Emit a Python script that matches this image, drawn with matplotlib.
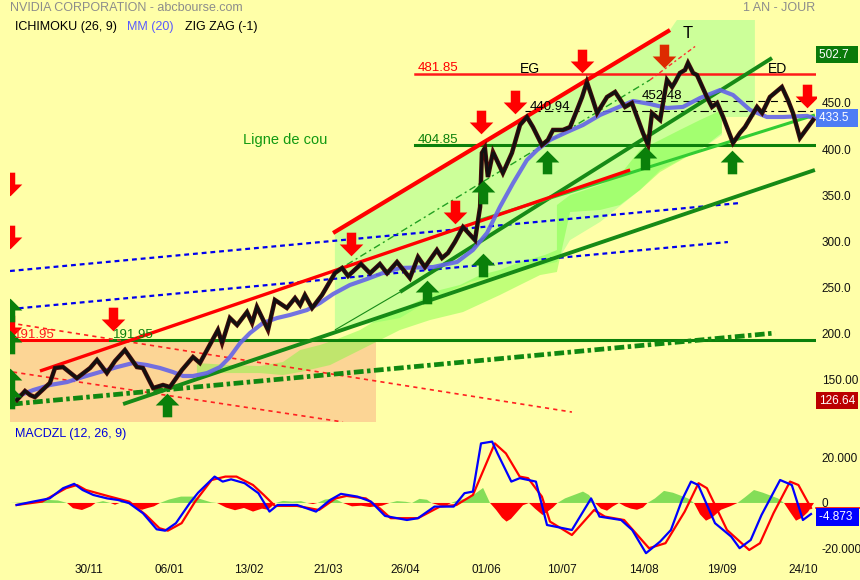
import numpy as np
import matplotlib
matplotlib.use("Agg")
import matplotlib.pyplot as plt
from matplotlib.path import Path

plt.rcParams['font.family'] = ['Liberation Sans', 'DejaVu Sans']
plt.rcParams['lines.scale_dashes'] = False

#########  data (x = bar index, y = price)

date_pos = [26.3, 53, 79.7, 106, 131.7, 158.7, 184, 211.3, 237.3, 264.3]
date_lbl = ["30/11", "06/01", "13/02", "21/03", "26/04", "01/06", "10/07", "14/08", "19/09", "24/10"]

price_ticks = [150, 200, 250, 300, 350, 400, 450]
price_tick_lbl = ["150.00", "200.0", "250.0", "300.0", "350.0", "400.0", "450.0"]

# zig zag line
zz_x = [2.3, 5, 6.7, 8.3, 13.3, 15, 17.7, 22.3, 26.7, 29, 32.3, 35, 38.3, 42.3, 44.3, 47.7, 51, 53.3,
        57.3, 61, 63.3, 69.3, 70.7, 73.3, 75.7, 79, 80.7, 82.3, 86, 88.3, 92.3, 95, 96.7, 98.3, 100.7,
        104, 108.3, 110.7, 112.7, 117, 120, 123.3, 125.7, 129, 133.3, 136, 138.3, 142.3, 144, 146,
        148.3, 151, 155, 156.7, 157.3, 158.3, 159.3, 161, 164.3, 167.3, 170, 172.3, 174.3, 177.3,
        179.3, 181, 184.3, 186.7, 189, 190.7, 192.3, 194.3, 195.7, 199, 201.7, 205, 207.3, 211,
        212.7, 214, 216.7, 219, 220.7, 221.7, 223.3, 225, 226, 227.7, 229, 232.3, 234, 235.7, 237.7,
        241, 243.3, 245, 249, 250.7, 253.3, 257.3, 259.3, 261, 263.3, 266, 267.7]
zz_p = [127.2, 137, 132.6, 130.4, 145.7, 162, 163, 151, 162, 170.7, 156.5, 169.6, 181.5, 163, 162,
        140.2, 143.5, 141.3, 159.8, 173.9, 167.4, 203.3, 189.1, 216.3, 208.7, 222.8, 210.9, 228.3,
        203.3, 235.9, 227.2, 238, 230.4, 241.3, 227.2, 241.3, 265.2, 270.7, 262, 275, 265, 275, 265,
        277.2, 259.8, 282.6, 271.7, 290.2, 281.5, 287, 298.9, 315.2, 301, 337, 395.7, 401.1, 369.6,
        396.7, 373.9, 395.7, 426.1, 434.8, 423.9, 404.3, 409.8, 420.7, 420.7, 423.9, 442.4, 456.5,
        472.8, 453.3, 439.1, 456.5, 462, 445.7, 450, 417.4, 404.3, 439.1, 431.5, 475, 467.4, 472.8,
        482.6, 485.9, 493.5, 482.6, 480.4, 456.5, 445.7, 450, 434.8, 406.5, 417.4, 423.9, 445.7,
        439.1, 456.5, 467.4, 453.3, 439.1, 412, 424, 431.5]

# moving average MM(20)
ma_x = [1, 7.7, 13.3, 19, 24.3, 30, 35.7, 41, 45.7, 50, 54.3, 57.7, 61, 65.7, 70, 73.3, 76.7, 80,
        84.3, 89, 93.3, 99, 103.3, 107.7, 113.3, 119, 124.3, 130, 141, 149, 154.3, 159, 163.3,
        167.7, 172.3, 175.7, 180, 185.7, 191, 196.7, 207.7, 213.3, 219, 224.3, 230, 236.7, 241,
        246.7, 252.3, 257.7, 265.7, 268]
ma_p = [129.3, 138, 143.5, 146.7, 152.2, 157.6, 163, 167.4, 165.2, 162, 157.6, 153.3, 153.3, 156.5,
        163, 173.9, 189.1, 200, 210.9, 216.3, 219.6, 225, 232.6, 242.4, 252.2, 258.7, 265.2, 270.7,
        271.7, 277.2, 290.2, 308.7, 337, 363, 388, 398.9, 409.8, 418.5, 426.1, 437, 452.2, 448.9,
        444.6, 445.7, 455.4, 464.1, 458.7, 442.4, 434.8, 434.8, 436, 433.5]

# ichimoku areas
pale_x = [108.3, 220, 222.3, 248.3, 248.3, 237.3, 237.3, 230, 216.7, 210, 196.7, 186.7, 182.3, 170,
          153.3, 140, 130, 108.3]
pale_p = [308.7, 529.3, 540.2, 540.2, 434.8, 434.8, 415.2, 398.9, 377.2, 355.4, 320.7, 301, 277.2,
          268.5, 255.4, 235.9, 216.3, 203.3]
kumo_x = [62.3, 73.3, 83.3, 91, 96.7, 103.3, 108.3, 116.7, 123.3, 130, 136.7, 143.3, 150, 156.7,
          163.3, 170, 178.3, 182.3, 182.3, 186.7, 196.7, 203.3, 210, 216.7, 223.3, 230, 237.3,
          237.3, 230, 226.7, 216.7, 210, 203.3, 196.7, 186.7, 182.3, 176.7, 170, 163.3, 151, 140,
          130, 116.7, 106.7, 96.7, 91, 83.3, 73.3, 62.3]
kumo_p = [167.4, 165.2, 164.1, 168.5, 181.5, 187, 192.4, 203.3, 216.3, 225, 235.9, 246.7, 252.2,
          263, 268.5, 277.2, 284.8, 290.2, 339.1, 350, 360.9, 371.7, 398.9, 409.8, 420.7, 431.5,
          442.4, 417.4, 398.9, 393.5, 375, 355.4, 339.1, 333.7, 331.5, 266.3, 263, 252.2, 241.3,
          222.8, 214.1, 203.3, 181.5, 165.2, 157.6, 154.3, 156.5, 156.5, 156.5]

# horizontal levels
lvl_neck = 191.95
lvl_low = 404.85
lvl_high = 481.85
lvl_mid1 = 440.94
lvl_mid2 = 452.48

# drawn trend lines: (x0, p0, x1, p1)
red_top = (107.7, 308.7, 220, 529.3)
red_low = (10, 158.7, 206.7, 377.2)
lgreen = (156.7, 322.8, 268.3, 437)
green_a = (37.7, 122.8, 268.3, 377.2)
green_b = (130, 244.6, 254, 498.9)
green_b_thin = (108.3, 203.3, 130, 244.6)
green_dd = (107.7, 265.2, 213.3, 475)
red_dd = (213.3, 475, 229, 513)
green_dd_thick = (1, 122.8, 255, 200)
blue_up = (0, 267.4, 243.3, 341.3)
blue_lo = (0, 226, 239.3, 298.9)
red_da = (0, 210.9, 187.3, 114.1)
red_db = (1, 157.6, 111, 103.3)

# signal arrows (centre points)
down_x = [34.3, 113.7, 148.3, 157, 168.3, 190.7, 265.7, 0, 0, 0]
down_p = [215.2, 296.5, 331.5, 429.3, 451.1, 495.7, 457.6, 362, 304.3, 206.5]
down2_x = [218]
down2_p = [501.1]
up_x = [52.3, 139, 157.7, 157.7, 179, 211.7, 240.7, 0, 0, 0, 0]
up_p = [121.7, 244.6, 353.3, 273.9, 385.9, 390.2, 385.9, 225, 190.2, 149, 130.4]

# MACD panel
macd_x = [2.2, 7.7, 13.2, 17.7, 21.4, 24.2, 27.8, 32.4, 36, 39.7, 44.3, 48.9, 51.7, 55.3, 59.9,
          62.7, 68.2, 70.9, 73.7, 78.2, 82.8, 86.5, 89.2, 95.7, 102, 106.7, 110.3, 115.8, 120.3,
          125, 132.3, 136, 141.5, 147.9, 151.5, 154.3, 157, 160.7, 162.5, 167.1, 169.9, 175.3,
          179, 181.7, 187.3, 193.7, 196.5, 203.7, 207.4, 212, 216.7, 220.3, 224, 227, 229.4, 235,
          240.4, 243.2, 246.9, 250.5, 256.7, 260.6, 264.3, 267]
macd_v = [-0.9, 0.6, 2, 6.5, 8.4, 5.7, 3.5, 2, 1.3, -0.1, -4.5, -11.6, -12.2, -8.9, -0.1, 4.5,
          11.6, 9.4, 10.4, 8.7, 4.3, -3.8, -0.9, -0.9, -3.8, 1.3, 4, 2.8, 0.6, -5.7, -7.5, -6.7,
          -1.6, -1.6, 4.3, 5, 26.2, 27, 21.8, 9.4, 10.9, 9.4, -9.7, -10.4, -11.9, 2, -6, -7.5,
          -11.9, -22.1, -17, -11.9, 1.3, 9.4, 7.9, -8.9, -14.8, -19.9, -16.3, -5.3, 10.1, 7.9,
          -7.5, -4.873]
sig_x = [2.2, 10.7, 18.7, 22.3, 25.3, 33.3, 39.7, 45.3, 49.8, 52.6, 57.2, 61.7, 67.2, 71.8, 75.5,
         81, 84.6, 88.3, 95.7, 103, 108.5, 112.2, 118.6, 123.2, 126.9, 136, 143.3, 148.8, 154.3,
         161.6, 165.3, 169.9, 172.7, 177.3, 180, 187.3, 194.7, 198.3, 204.7, 213, 218.5, 224.9,
         229.5, 232.3, 239, 246.4, 250, 254.5, 260, 262.8, 267]
sig_v = [-0.9, 0.6, 6.5, 7.9, 5.7, 2.8, 0.6, -5.3, -11.1, -12.2, -8.9, 0.6, 10.1, 11.6, 11.6, 7.9,
         3.5, -1.3, -1.3, -3.1, 2, 3.1, 2, -2.3, -6.7, -6.7, -1.6, -0.9, 3.5, 26.2, 21.8, 11.6,
         10.9, 2.8, -8.2, -14.1, -3.1, -6, -7.5, -19.9, -17.7, -3.8, 8.7, 6.5, -11.9, -20.7,
         -17.7, -4.5, 9.4, 7.9, -2.2]
hist_x = [0, 5, 9, 13, 16, 19, 21, 24, 27, 28.5, 31, 33.5, 35, 36.5, 38, 40, 42, 44, 46, 48, 50,
          53, 57, 61, 64, 67, 69, 72, 75, 78, 81, 84, 86, 88.5, 91, 94, 97, 99, 101, 102.5, 105,
          108, 111, 114, 117, 120, 124, 126.5, 129, 132, 134, 136.5, 139, 140.5, 143, 145, 147,
          149, 152, 155, 157.7, 160, 162, 164, 165.5, 167, 169, 171, 173, 175, 177.5, 179, 181,
          182.5, 185, 188, 191, 193, 195, 197, 199, 201, 203, 205, 207, 209, 211, 212.5, 215,
          218, 221, 224, 226, 228, 230, 232, 234, 237, 240, 242.5, 245, 248, 251, 254, 256, 258,
          260, 262, 264, 266, 268]
hist_v = [0, 0.3, 1.0, 1.3, 1.1, 0, -2.3, -3.1, -1.5, 0, 0.8, 0, -0.8, 0, 0.9, 0, -2.0, -3.0,
          -2.2, -1.5, 0, 1.5, 2.8, 2.8, 1.5, 0.3, 0, -2.0, -3.2, -2.2, -3.8, -2.5, -3.0, 0, 0.9,
          0.6, 0.8, 0, -0.5, 0, 1.5, 2.0, 0, -1.5, -1.2, -1.8, -1.2, 0, 0.8, 0.5, 0, 1.8, 1.4, 0,
          -1.0, -1.5, 0, 1.0, 2.0, 4.0, 6.6, 0, -3, -6.5, -8.2, -7.0, -4.0, -1.0, 0, -2.5, -5.3,
          -4.0, -2.0, 0, 2.0, 3.5, 5.0, 3.5, 0, -2.5, -3.4, -1.5, 0, -1.5, -2.5, -3.0, -2.0, 0,
          2.0, 5.3, 4.5, 3.0, 2.0, 0, -5.0, -7.8, -6.5, -3.0, -1.5, 0, 2.5, 5.7, 4.5, 3.0, 2.0, 0,
          -4.0, -7.8, -6.5, -4.0, 0]

#########

BG = '#ffffa8'
fig = plt.figure(figsize=(8.6, 5.8), dpi=100, facecolor=BG)

W, H = 860.0, 580.0
XMAX = (816 - 10) / 3.0
ax = fig.add_axes([10 / W, 1 - 422 / H, 806 / W, 402 / H], facecolor=BG)
ax.set_xlim(0, XMAX)
ax.set_ylim(103.3, 540.2)

ax2 = fig.add_axes([10 / W, 1 - 560 / H, 806 / W, 130 / H], facecolor=BG)
ax2.set_xlim(0, XMAX)
ax2.set_ylim(-25.1, 32.1)

for a in (ax, ax2):
    for s in a.spines.values():
        s.set_visible(False)
    a.tick_params(length=0)
    a.yaxis.tick_right()


def seg(a, line, **kw):
    x0, p0, x1, p1 = line
    a.plot([x0, x1], [p0, p1], solid_capstyle='butt', **kw)


# background areas
ax.fill_between([0, 122], [103.3, 103.3], [lvl_neck - 2, lvl_neck - 2], color='#fcd595', lw=0, zorder=1)
ax.fill(pale_x, pale_p, color='#ccff99', lw=0, zorder=1)
ax.fill(kumo_x, kumo_p, color='#66ff33', alpha=0.4, lw=0, zorder=1.5)

# horizontal levels
ax.plot([1, 33.3], [lvl_neck, lvl_neck], color='#ff0000', lw=2.2, zorder=2)
ax.plot([33.3, XMAX], [lvl_neck, lvl_neck], color='#0b800b', lw=2.2, zorder=2)
ax.plot([135, XMAX], [lvl_low, lvl_low], color='#0b800b', lw=2.2, zorder=2)
ax.plot([135, XMAX], [lvl_high, lvl_high], color='#ff1a1a', lw=1.8, zorder=2)
ax.plot([171.7, 267.7], [lvl_mid1, lvl_mid1], color='black', lw=0.8, dashes=(6, 3, 2, 3), zorder=2)
ax.plot([207.7, 267.7], [lvl_mid2, lvl_mid2], color='black', lw=0.8, dashes=(5, 4), zorder=2)

# trend lines
seg(ax, red_da, color='#ff2020', lw=1.2, dashes=(3, 3), zorder=3)
seg(ax, red_db, color='#ff2020', lw=1.2, dashes=(3, 3), zorder=3)
seg(ax, blue_up, color='#0000ee', lw=1.6, dashes=(3.5, 2.8), zorder=3)
seg(ax, blue_lo, color='#0000ee', lw=1.6, dashes=(3.5, 2.8), zorder=3)
seg(ax, green_dd_thick, color='#118811', lw=3.4, dashes=(7, 2.5, 2.5, 2.5), zorder=3)
seg(ax, green_a, color='#168a16', lw=2.8, zorder=3)
seg(ax, green_b_thin, color='#168a16', lw=0.8, zorder=3)
seg(ax, green_b, color='#168a16', lw=2.8, zorder=3)
seg(ax, green_dd, color='#22a022', lw=1.0, dashes=(5, 2.5, 1.5, 2.5), zorder=3)
seg(ax, red_dd, color='#ff3030', lw=1.0, dashes=(3, 2, 1.5, 2), zorder=3)
seg(ax, red_top, color='#ff0000', lw=3.0, zorder=3)
seg(ax, lgreen, color='#33cc33', lw=2.2, zorder=3)
seg(ax, red_low, color='#ff0000', lw=2.4, zorder=3.1)

# MM(20) and zig zag
ax.plot(ma_x, ma_p, color='#6464e8', lw=3.0, alpha=0.9, zorder=4, solid_capstyle='round')
ax.plot(zz_x, zz_p, color='#4a0a0a', lw=3.2, zorder=5, solid_joinstyle='miter')
ax.plot(zz_x, zz_p, color='#111111', lw=2.0, zorder=5.1, solid_joinstyle='miter')

# arrows
dn = Path([(-0.2, 0.5), (0.2, 0.5), (0.2, 0.0), (0.5, 0.0), (0, -0.5), (-0.5, 0.0), (-0.2, 0.0),
           (-0.2, 0.5)], closed=True)
up = Path([(-0.2, -0.5), (0.2, -0.5), (0.2, 0.0), (0.5, 0.0), (0, 0.5), (-0.5, 0.0), (-0.2, 0.0),
           (-0.2, -0.5)], closed=True)
ax.plot(down_x, down_p, ls='none', marker=dn, ms=17, mfc='#ff0000', mec='none', zorder=6)
ax.plot(down2_x, down2_p, ls='none', marker=dn, ms=17, mfc='#dd2a00', mec='none', zorder=6)
ax.plot(up_x, up_p, ls='none', marker=up, ms=17, mfc='#0a800a', mec='none', zorder=6)

# chart texts
ax.text(77.7, 409.8, "Ligne de cou", color='#119911', fontsize=10.5, va='center', zorder=7)
ax.text(173.3, 487, "EG", color='black', fontsize=10, ha='center', va='center', zorder=7)
ax.text(226, 525, "T", color='black', fontsize=12, ha='center', va='center', zorder=7)
ax.text(255.7, 487, "ED", color='black', fontsize=10, ha='center', va='center', zorder=7)
ax.text(136, 487.5, "481.85", color='#ff0000', fontsize=9.5, va='center', zorder=7)
ax.text(136, 410, "404.85", color='#0b800b', fontsize=9.5, va='center', zorder=7)
ax.text(1.3, 197.5, "191.95", color='#ff1a1a', fontsize=9.5, va='center', zorder=7)
ax.text(34.3, 197.5, "191.95", color='#0b800b', fontsize=9.5, va='center', zorder=7)
ax.text(173.3, 446, "440.94", color='black', fontsize=9.5, va='center', zorder=7)
ax.text(210.7, 457.5, "452.48", color='black', fontsize=9.5, va='center', zorder=7)

# right scale
ax.set_yticks(price_ticks)
ax.set_yticklabels(price_tick_lbl)
ax.tick_params(axis='y', labelsize=8.5, pad=4, labelcolor='#111111')
ax.set_xticks([])
tr = ax.get_yaxis_transform()
box = dict(boxstyle='square,pad=0.25', ec='none')
ax.text(1.004, 502.7, "502.7  ", transform=tr, color='white', fontsize=8.5, va='center', ha='left',
        bbox=dict(box, fc='#0a7a0a'))
ax.text(1.004, 433.5, "433.5  ", transform=tr, color='white', fontsize=8.5, va='center', ha='left',
        bbox=dict(box, fc='#4d7cf5'))
ax.text(1.004, 126.64, "126.64", transform=tr, color='white', fontsize=8.5, va='center', ha='left',
        bbox=dict(box, fc='#bb0000'))

# MACD
hx = np.array(hist_x)
hv = np.array(hist_v)
ax2.fill_between(hx, 0, hv, where=hv >= 0, color='#84dd58', lw=0, interpolate=True)
ax2.fill_between(hx, 0, hv, where=hv <= 0, color='#ff0000', lw=0, interpolate=True)
ax2.plot(sig_x, sig_v, color='#ff0000', lw=1.6)
ax2.plot(macd_x, macd_v, color='#0000ff', lw=1.6)
ax2.set_yticks([20, 0, -20])
ax2.set_yticklabels(["20.000", "0", "-20.000"])
ax2.tick_params(axis='y', labelsize=8.5, pad=4, labelcolor='#111111')
ax2.set_xticks(date_pos)
ax2.set_xticklabels(date_lbl)
ax2.tick_params(axis='x', labelsize=8.5, pad=3, labelcolor='#111111')
ax2.plot([1.0, 1.08], [-2.2, -2.2], transform=ax2.get_yaxis_transform(), color='#ff0000', lw=1.2,
         clip_on=False)
ax2.text(1.004, -6.3, "-4.873 ", transform=ax2.get_yaxis_transform(), color='white',
         fontsize=8.5, va='center', ha='left', bbox=dict(box, fc='#0000ff'))

# header texts
fig.text(10 / W, 1 - 8 / H, "NVIDIA CORPORATION - abcbourse.com", color='#8c8c8c', fontsize=9, va='center')
fig.text(815 / W, 1 - 8 / H, "1 AN - JOUR", color='#8c8c8c', fontsize=9, va='center', ha='right')
fig.text(15 / W, 1 - 27 / H, "ICHIMOKU (26, 9)", color='black', fontsize=9, va='center')
fig.text(127 / W, 1 - 27 / H, "MM (20)", color='#5a5aff', fontsize=9, va='center')
fig.text(185 / W, 1 - 27 / H, "ZIG ZAG (-1)", color='black', fontsize=9, va='center')
fig.text(15 / W, 1 - 434 / H, "MACDZL (12, 26, 9)", color='#0000dd', fontsize=9, va='center')

fig.savefig("out.png", dpi=100, facecolor=BG)
